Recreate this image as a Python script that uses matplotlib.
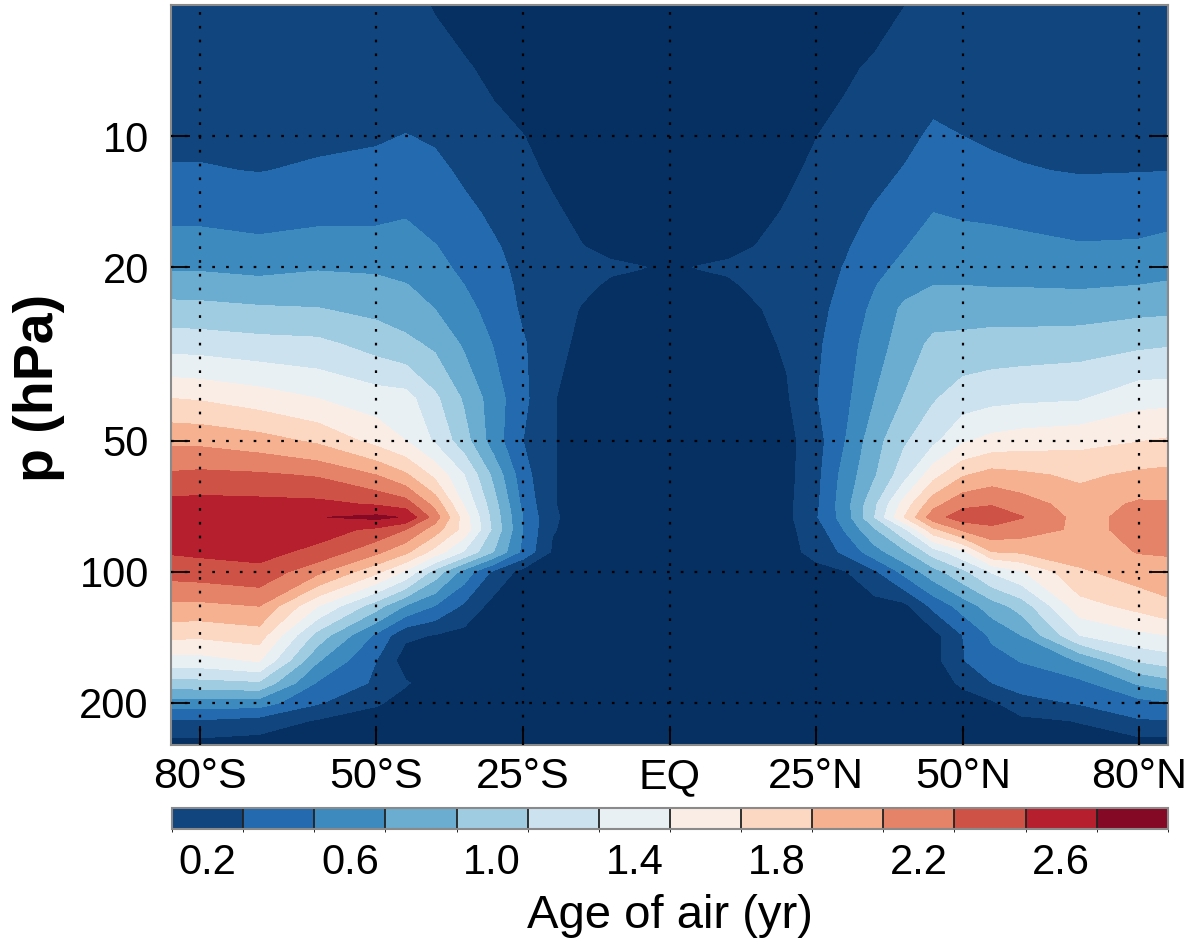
import numpy as np
import matplotlib
matplotlib.use('agg')
import matplotlib.pyplot as plt
from matplotlib.colors import ListedColormap, BoundaryNorm
from matplotlib.cm import ScalarMappable

plt.rcParams['font.family'] = ['Liberation Sans', 'DejaVu Sans']

# grid of the field
lats = [-85, -80, -70, -60, -50, -45, -40, -35, -30, -25, -20, -15, -10, -5, 0,
        5, 10, 15, 20, 25, 30, 35, 40, 45, 50, 55, 60, 70, 80, 85]
plevs = [5, 7, 10, 12, 15, 18, 20, 22, 25, 30, 40, 50, 60, 70, 75, 80, 90, 100,
         120, 140, 160, 180, 200, 220, 250]

# age of air (yr), one profile per latitude, top (5 hPa) to bottom (250 hPa)
age_by_lat = [
    [0.20, 0.22, 0.27, 0.31, 0.45, 0.58, 0.67, 0.80, 0.97, 1.22, 1.70, 2.06, 2.33, 2.56, 2.63, 2.64, 2.52, 2.38, 2.05, 1.75, 1.42, 1.02, 0.60, 0.27, 0.02],
    [0.20, 0.22, 0.27, 0.31, 0.45, 0.58, 0.67, 0.80, 0.96, 1.21, 1.68, 2.05, 2.35, 2.57, 2.64, 2.65, 2.54, 2.40, 2.05, 1.74, 1.42, 1.03, 0.60, 0.28, 0.02],
    [0.20, 0.21, 0.26, 0.295, 0.42, 0.55, 0.64, 0.76, 0.93, 1.17, 1.60, 1.98, 2.33, 2.56, 2.63, 2.62, 2.56, 2.45, 2.10, 1.80, 1.52, 1.07, 0.60, 0.22, 0.0],
    [0.20, 0.22, 0.27, 0.32, 0.45, 0.58, 0.68, 0.78, 0.91, 1.15, 1.50, 1.86, 2.28, 2.55, 2.69, 2.58, 2.45, 2.15, 1.50, 1.02, 0.72, 0.48, 0.32, 0.08, 0.0],
    [0.20, 0.22, 0.28, 0.35, 0.46, 0.57, 0.66, 0.76, 0.85, 1.02, 1.40, 1.63, 2.10, 2.48, 2.75, 2.46, 2.15, 1.75, 0.98, 0.46, 0.30, 0.27, 0.12, 0.02, 0.0],
    [0.15, 0.19, 0.305, 0.37, 0.49, 0.55, 0.62, 0.71, 0.80, 0.95, 1.38, 1.50, 1.93, 2.40, 2.68, 2.30, 1.95, 1.47, 0.68, 0.14, 0.0, 0.115, 0.04, 0.02, 0.0],
    [0.09, 0.16, 0.28, 0.34, 0.42, 0.51, 0.55, 0.62, 0.70, 0.86, 1.14, 1.27, 1.65, 2.03, 2.20, 2.00, 1.62, 1.02, 0.49, 0.09, 0.02, 0.02, 0.02, 0.02, 0.0],
    [0.05, 0.115, 0.20, 0.27, 0.34, 0.42, 0.46, 0.50, 0.56, 0.67, 0.87, 0.98, 1.30, 1.47, 1.60, 1.62, 1.28, 0.62, 0.26, 0.03, 0.02, 0.02, 0.02, 0.02, 0.0],
    [0.04, 0.07, 0.14, 0.19, 0.27, 0.32, 0.35, 0.38, 0.43, 0.49, 0.60, 0.60, 0.85, 0.98, 1.02, 1.05, 0.90, 0.26, 0.02, 0.02, 0.02, 0.02, 0.02, 0.02, 0.0],
    [0.03, 0.05, 0.102, 0.13, 0.20, 0.24, 0.25, 0.26, 0.27, 0.32, 0.35, 0.30, 0.38, 0.45, 0.50, 0.50, 0.45, 0.03, 0.02, 0.02, 0.02, 0.02, 0.02, 0.02, 0.0],
    [0.03, 0.04, 0.07, 0.08, 0.12, 0.17, 0.20, 0.19, 0.18, 0.16, 0.11, 0.11, 0.11, 0.11, 0.12, 0.11, 0.08, 0.02, 0.02, 0.02, 0.02, 0.02, 0.02, 0.02, 0.0],
    [0.03, 0.04, 0.05, 0.05, 0.07, 0.105, 0.15, 0.13, 0.09, 0.06, 0.04, 0.04, 0.04, 0.04, 0.04, 0.04, 0.04, 0.02, 0.02, 0.02, 0.02, 0.02, 0.02, 0.02, 0.0],
    [0.03, 0.04, 0.05, 0.05, 0.05, 0.07, 0.12, 0.08, 0.06, 0.05, 0.04, 0.04, 0.04, 0.04, 0.04, 0.04, 0.04, 0.02, 0.02, 0.02, 0.02, 0.02, 0.02, 0.02, 0.0],
    [0.03, 0.04, 0.04, 0.04, 0.04, 0.05, 0.105, 0.06, 0.05, 0.04, 0.04, 0.04, 0.04, 0.04, 0.04, 0.04, 0.04, 0.02, 0.02, 0.02, 0.02, 0.02, 0.02, 0.02, 0.0],
    [0.03, 0.03, 0.04, 0.04, 0.04, 0.05, 0.08, 0.05, 0.04, 0.04, 0.04, 0.04, 0.04, 0.04, 0.04, 0.04, 0.04, 0.02, 0.02, 0.02, 0.02, 0.02, 0.02, 0.02, 0.0],
    [0.03, 0.04, 0.04, 0.04, 0.04, 0.05, 0.105, 0.06, 0.05, 0.04, 0.04, 0.04, 0.04, 0.04, 0.04, 0.04, 0.04, 0.02, 0.02, 0.02, 0.02, 0.02, 0.02, 0.02, 0.0],
    [0.03, 0.04, 0.05, 0.05, 0.05, 0.07, 0.12, 0.08, 0.06, 0.05, 0.05, 0.05, 0.05, 0.05, 0.05, 0.05, 0.05, 0.02, 0.02, 0.02, 0.02, 0.02, 0.02, 0.02, 0.0],
    [0.02, 0.03, 0.04, 0.05, 0.07, 0.105, 0.14, 0.13, 0.09, 0.06, 0.05, 0.05, 0.05, 0.05, 0.05, 0.05, 0.05, 0.02, 0.02, 0.02, 0.02, 0.02, 0.02, 0.02, 0.0],
    [0.02, 0.03, 0.05, 0.08, 0.11, 0.15, 0.17, 0.16, 0.15, 0.12, 0.08, 0.04, 0.04, 0.05, 0.05, 0.05, 0.05, 0.04, 0.02, 0.02, 0.02, 0.02, 0.02, 0.02, 0.0],
    [0.03, 0.05, 0.098, 0.12, 0.16, 0.20, 0.22, 0.23, 0.25, 0.27, 0.29, 0.22, 0.24, 0.26, 0.28, 0.20, 0.15, 0.05, 0.02, 0.02, 0.02, 0.02, 0.02, 0.02, 0.0],
    [0.04, 0.08, 0.14, 0.17, 0.23, 0.28, 0.31, 0.33, 0.36, 0.40, 0.45, 0.50, 0.58, 0.62, 0.60, 0.52, 0.35, 0.09, 0.02, 0.02, 0.02, 0.02, 0.02, 0.02, 0.0],
    [0.05, 0.12, 0.20, 0.24, 0.32, 0.40, 0.44, 0.49, 0.55, 0.62, 0.70, 0.82, 0.88, 1.06, 1.10, 0.88, 0.62, 0.27, 0.02, 0.02, 0.02, 0.02, 0.02, 0.02, 0.0],
    [0.098, 0.16, 0.25, 0.31, 0.42, 0.49, 0.55, 0.63, 0.74, 0.78, 0.91, 1.07, 1.22, 1.58, 1.70, 1.25, 0.86, 0.56, 0.04, 0.02, 0.02, 0.02, 0.02, 0.02, 0.0],
    [0.17, 0.22, 0.33, 0.39, 0.50, 0.60, 0.65, 0.70, 0.80, 0.95, 1.08, 1.25, 1.63, 2.03, 2.22, 1.85, 1.20, 0.82, 0.35, 0.03, 0.03, 0.04, 0.03, 0.02, 0.0],
    [0.20, 0.22, 0.30, 0.35, 0.48, 0.57, 0.63, 0.70, 0.80, 0.97, 1.20, 1.47, 1.88, 2.25, 2.40, 2.14, 1.45, 1.05, 0.58, 0.30, 0.29, 0.12, 0.05, 0.02, 0.0],
    [0.20, 0.22, 0.28, 0.33, 0.47, 0.56, 0.62, 0.69, 0.81, 0.99, 1.24, 1.56, 1.98, 2.29, 2.38, 2.26, 1.90, 1.32, 0.80, 0.54, 0.42, 0.30, 0.07, 0.02, 0.0],
    [0.20, 0.22, 0.27, 0.31, 0.45, 0.55, 0.62, 0.69, 0.80, 1.00, 1.26, 1.60, 1.94, 2.20, 2.31, 2.20, 1.93, 1.48, 0.98, 0.70, 0.51, 0.38, 0.23, 0.05, 0.0],
    [0.20, 0.22, 0.26, 0.29, 0.40, 0.52, 0.60, 0.68, 0.80, 1.02, 1.28, 1.64, 1.86, 2.00, 2.03, 2.06, 2.00, 1.87, 1.62, 1.30, 0.72, 0.45, 0.32, 0.11, 0.0],
    [0.20, 0.22, 0.26, 0.295, 0.41, 0.53, 0.62, 0.70, 0.85, 1.06, 1.43, 1.69, 1.94, 2.13, 2.17, 2.14, 2.11, 2.00, 1.76, 1.45, 1.12, 0.73, 0.43, 0.28, 0.0],
    [0.20, 0.22, 0.26, 0.298, 0.42, 0.57, 0.64, 0.72, 0.86, 1.08, 1.44, 1.72, 1.96, 2.12, 2.18, 2.18, 2.12, 2.03, 1.85, 1.50, 1.19, 0.82, 0.49, 0.29, 0.0],
]

levels = [0.1, 0.3, 0.5, 0.7, 0.9, 1.1, 1.3, 1.5, 1.7, 1.9, 2.1, 2.3, 2.5, 2.7, 2.9]
cbar_ticks = [0.2, 0.6, 1.0, 1.4, 1.8, 2.2, 2.6]
xticks = [-80, -50, -25, 0, 25, 50, 80]
xlabels = ['80°S', '50°S', '25°S', 'EQ', '25°N', '50°N', '80°N']
yticks = [10, 20, 50, 100, 200]

age = np.array(age_by_lat).T

cmap = ListedColormap(plt.cm.RdBu_r(np.linspace(0.04, 0.96, 14)))
cmap.set_under(plt.cm.RdBu_r(0.0))
cmap.set_over(plt.cm.RdBu_r(1.0))
norm = BoundaryNorm(levels, cmap.N)

fig = plt.figure(figsize=(11.87, 9.46), dpi=100)
ax = fig.add_axes([0.1441, 0.2125, 0.8399, 0.7822])
ax.contourf(lats, plevs, age, levels=levels, cmap=cmap, norm=norm, extend='both')

ax.set_yscale('log')
ax.set_ylim(250, 5)
ax.set_xlim(-85, 85)
ax.set_yticks(yticks)
ax.set_yticklabels([str(t) for t in yticks])
ax.yaxis.set_minor_locator(matplotlib.ticker.NullLocator())
ax.set_xticks(xticks)
ax.set_xticklabels(xlabels)

ax.tick_params(axis='both', direction='in', length=14, width=1.3, labelsize=30,
               color='black', top=False, right=True)
ax.tick_params(axis='x', pad=9, labelsize=31)
ax.tick_params(axis='y', pad=16)
ax.set_axisbelow(False)
ax.grid(True, color='black', linestyle=(0, (1.2, 5)), linewidth=1.6)
for s in ax.spines.values():
    s.set_color('#8a8a8a')
    s.set_linewidth(1.5)

ax.set_ylabel('p (hPa)', fontsize=40, fontweight='bold')
ax.yaxis.set_label_coords(-0.106, 0.482)

cax = fig.add_axes([0.1449, 0.1237, 0.839, 0.0222])
sm = ScalarMappable(norm=norm, cmap=cmap)
cb = fig.colorbar(sm, cax=cax, orientation='horizontal', boundaries=levels,
                  ticks=cbar_ticks, drawedges=True)
cb.dividers.set_color('#222222')
cb.dividers.set_linewidth(1.3)
cb.outline.set_edgecolor('#8a8a8a')
cb.outline.set_linewidth(1.5)
cb.ax.tick_params(length=0, labelsize=30, pad=10)
cb.set_ticklabels(['%.1f' % t for t in cbar_ticks])
cb.set_label('Age of air (yr)', fontsize=34, labelpad=8)

plt.savefig('out.png', dpi=100)
plt.close()
